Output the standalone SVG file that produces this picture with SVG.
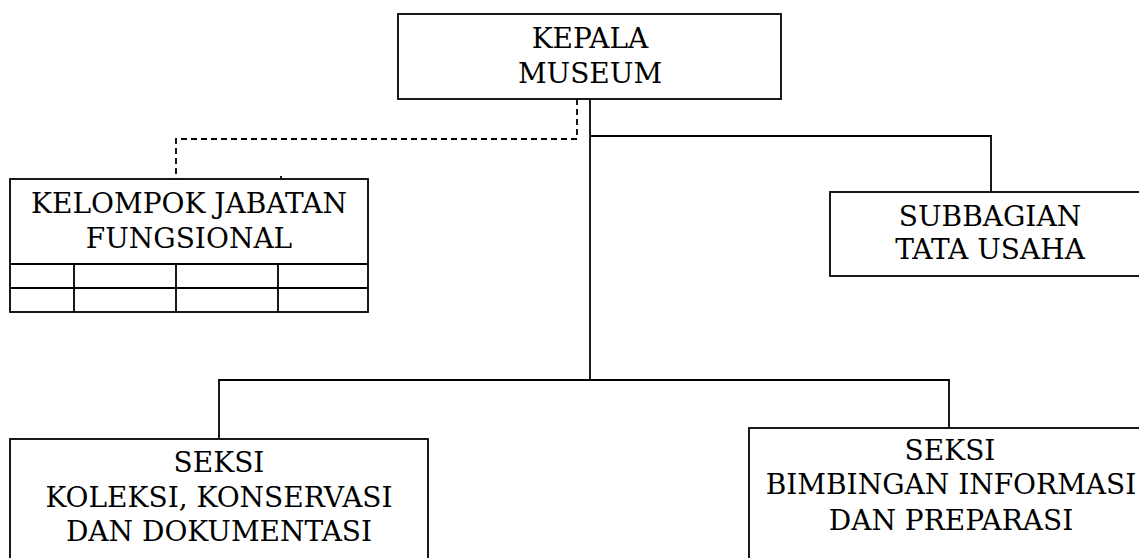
<svg xmlns="http://www.w3.org/2000/svg" width="1139" height="558" viewBox="0 0 1139 558">
<style>
.box{fill:#fff;stroke:#000;stroke-width:1.8}
.ln{fill:none;stroke:#000;stroke-width:1.8}
.dash{fill:none;stroke:#000;stroke-width:1.8;stroke-dasharray:6 4}
.t{font-family:"DejaVu Serif","Liberation Serif",serif;font-size:28px;fill:#000;text-anchor:middle}
</style>
<rect width="1139" height="558" fill="#fff"/>
<g id="connectors">
<path class="ln" d="M590 99V380"/>
<path class="ln" d="M590 136H991V192"/>
<path class="ln" d="M219 439V380H949V428"/>
<path class="dash" d="M577 99V139H176V179"/>
<path class="ln" d="M281 176V179"/>
</g>
<g id="kepala">
<rect class="box" x="398" y="14" width="383" height="85"/>
<text class="t" x="590" y="48">KEPALA</text>
<text class="t" x="590" y="83">MUSEUM</text>
</g>
<g id="kelompok">
<rect class="box" x="10" y="179" width="358" height="133"/>
<path class="ln" d="M10 264H368M10 288H368M74 264V312M176 264V312M278 264V312"/>
<text class="t" x="189" y="213">KELOMPOK JABATAN</text>
<text class="t" x="189" y="248">FUNGSIONAL</text>
</g>
<g id="subbagian">
<rect class="box" x="830" y="192" width="320" height="84"/>
<text class="t" x="990" y="226">SUBBAGIAN</text>
<text class="t" x="990" y="259">TATA USAHA</text>
</g>
<g id="seksi-koleksi">
<rect class="box" x="10" y="439" width="418" height="140"/>
<text class="t" x="219" y="472">SEKSI</text>
<text class="t" x="219" y="507">KOLEKSI, KONSERVASI</text>
<text class="t" x="219" y="541">DAN DOKUMENTASI</text>
</g>
<g id="seksi-bimbingan">
<rect class="box" x="749" y="428" width="401" height="150"/>
<text class="t" x="950" y="460">SEKSI</text>
<text class="t" x="951" y="494">BIMBINGAN INFORMASI</text>
<text class="t" x="951" y="530">DAN PREPARASI</text>
</g>
</svg>
